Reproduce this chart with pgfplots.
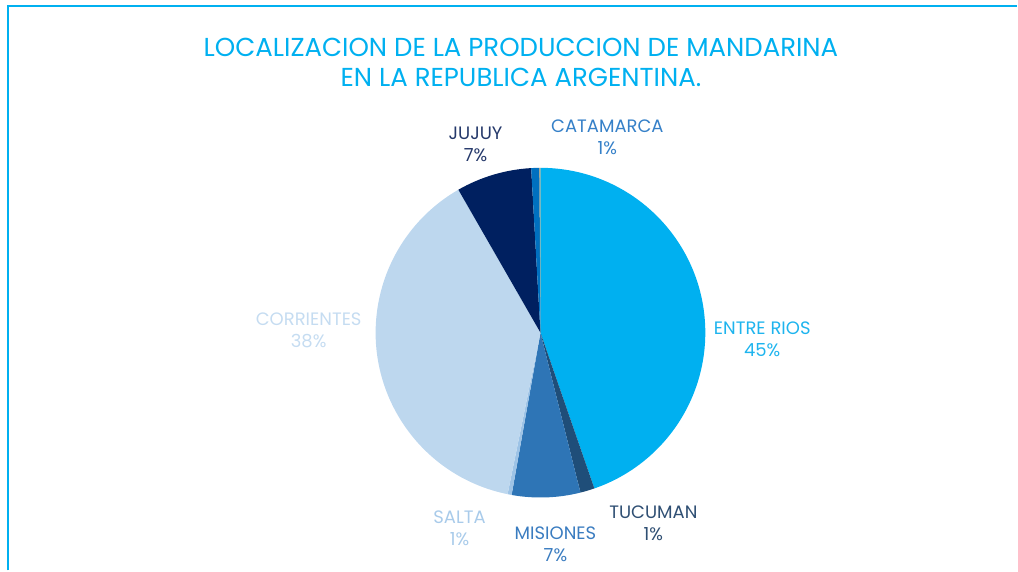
\documentclass[border=0pt]{standalone}
\usepackage{pgfplots}
\pgfplotsset{compat=1.18}
\usepackage{pgfplotstable}
\usepackage{fontspec}
\setmainfont{Poppins}
\definecolor{cER}{HTML}{00B0F0}
\definecolor{cTU}{HTML}{1F4E79}
\definecolor{cMI}{HTML}{2E75B6}
\definecolor{cSA}{HTML}{9DC3E6}
\definecolor{cCO}{HTML}{BDD7EE}
\definecolor{cJU}{HTML}{002060}
\definecolor{cCA}{HTML}{0070C0}
\definecolor{cOT}{HTML}{A5986E}
\definecolor{tER}{HTML}{1EB4EE}
\definecolor{tTU}{HTML}{2F4F73}
\definecolor{tMI}{HTML}{3A7CC0}
\definecolor{tSA}{HTML}{A9CBEA}
\definecolor{tCO}{HTML}{C5DCF1}
\definecolor{tJU}{HTML}{24386A}
\definecolor{tCA}{HTML}{3580C8}
\definecolor{frame}{HTML}{00B0F0}

\pgfplotstableread{
name pct color
EntreRios 44.7 cER
Tucuman 1.4 cTU
Misiones 6.7 cMI
Salta 0.4 cSA
Corrientes 38.5 cCO
Jujuy 7.4 cJU
Catamarca 0.8 cCA
Otros 0.1 cOT
}\piedata

\begin{document}
\begin{tikzpicture}
\begin{axis}[x=0.5pt, y=0.5pt, xmin=0, xmax=1018, ymin=0, ymax=571,
  hide axis, clip=false, scale only axis]
\path (axis cs:0,0) rectangle (axis cs:1018,571);
% frame
\draw[frame, line width=1pt] (axis cs:8.5,0) -- (axis cs:8.5,564.5) -- (axis cs:1018,564.5);
% pie
\def\cum{0}
\pgfplotsforeachungrouped \i in {0,...,7}{%
  \pgfplotstablegetelem{\i}{pct}\of\piedata \let\p\pgfplotsretval
  \pgfplotstablegetelem{\i}{color}\of\piedata \let\c\pgfplotsretval
  \pgfmathsetmacro\a{90-3.6*\cum}%
  \pgfmathsetmacro\b{90-3.6*(\cum+\p)}%
  \edef\temp{\noexpand\fill[\c] (axis cs:541,238) -- ++(\a:82.5pt) arc[start angle=\a, end angle=\b, radius=82.5pt] -- cycle;}%
  \temp
  \pgfmathsetmacro\cum{\cum+\p}%
}
% title
\node[align=center, text=frame, font=\fontsize{13}{15.5}\selectfont] at (axis cs:521.5,508.5)
  {LOCALIZACION DE LA PRODUCCION DE MANDARINA\\EN LA REPUBLICA ARGENTINA.};
% labels
\tikzset{lab/.style={align=center, font=\fontsize{9}{11}\selectfont}}
\node[lab, text=tJU] at (axis cs:476,426.5) {JUJUY\\7\%};
\node[lab, text=tCA] at (axis cs:608,434) {CATAMARCA\\1\%};
\node[lab, text=tCO] at (axis cs:309,240.5) {CORRIENTES\\38\%};
\node[lab, text=tER] at (axis cs:763,231) {ENTRE RIOS\\45\%};
\node[lab, text=tSA] at (axis cs:460,42.5) {SALTA\\1\%};
\node[lab, text=tMI] at (axis cs:556,26) {MISIONES\\7\%};
\node[lab, text=tTU] at (axis cs:654,47) {TUCUMAN\\1\%};
\end{axis}
\end{tikzpicture}
\end{document}
